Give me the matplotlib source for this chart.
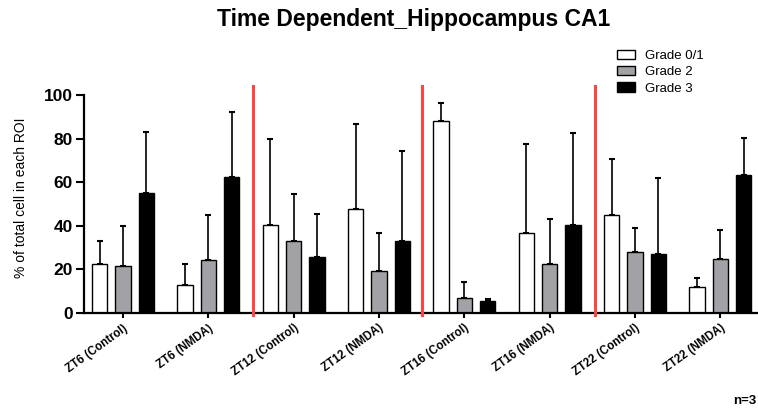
import matplotlib.pyplot as plt
import numpy as np

plt.rcParams['font.family'] = ['Liberation Sans', 'DejaVu Sans']

groups = ["ZT6 (Control)", "ZT6 (NMDA)", "ZT12 (Control)", "ZT12 (NMDA)",
          "ZT16 (Control)", "ZT16 (NMDA)", "ZT22 (Control)", "ZT22 (NMDA)"]
grade01 = [22.7, 12.9, 40.6, 47.6, 88.1, 36.8, 45.2, 11.8]
grade2 = [21.7, 24.2, 33.2, 19.4, 6.9, 22.7, 27.9, 25.0]
grade3 = [55.0, 62.6, 25.9, 33.1, 5.4, 40.3, 27.0, 63.2]
# upper error bar (SD)
err01 = [10.4, 9.5, 39.5, 39.2, 8.1, 41.0, 25.4, 4.3]
err2 = [18.3, 20.8, 21.3, 17.4, 7.2, 20.6, 11.3, 13.1]
err3 = [28.0, 29.7, 19.6, 41.3, 1.0, 42.1, 35.0, 17.2]
dividers = [1.52, 3.51, 5.53]

fig = plt.figure(figsize=(7.58, 4.08), dpi=100)
ax = fig.add_axes([0.1108, 0.2328, 0.889, 0.534])

x = np.arange(len(groups))
w = 0.18
off = 0.273
series = [(grade01, err01, "white", "Grade 0/1"),
          (grade2, err2, "#a2a2a6", "Grade 2"),
          (grade3, err3, "black", "Grade 3")]
for i, (vals, errs, col, lab) in enumerate(series):
    pos = x + (i - 1) * off
    ax.bar(pos, vals, w, color=col, edgecolor="black", linewidth=1.0, label=lab, zorder=2)
    ax.errorbar(pos, vals, yerr=[np.zeros(len(errs)), errs], fmt="none",
                ecolor="black", elinewidth=1.2, capsize=2.5, capthick=1.5, zorder=1)

for d in dividers:
    ax.plot([d, d], [-1, 104], color="#ff4444", linewidth=2.2, clip_on=False, zorder=3)

ax.set_xlim(-0.457, 7.44)
ax.set_ylim(0, 100)
ax.set_yticks([0, 20, 40, 60, 80, 100])
ax.set_xticks(x)
ax.set_xticklabels(groups, rotation=36, ha="right", rotation_mode="anchor",
                   fontsize=8.3, fontweight="bold")
for lbl in ax.get_yticklabels():
    lbl.set_fontweight("bold")
ax.tick_params(axis="y", labelsize=12.5, length=5.5, width=1.5, pad=2.5)
ax.tick_params(axis="x", length=3.5, width=1.5, pad=3)
ax.spines["top"].set_visible(False)
ax.spines["right"].set_visible(False)
ax.spines["left"].set_linewidth(1.6)
ax.spines["bottom"].set_linewidth(1.6)

ax.set_ylabel("% of total cell in each ROI", fontsize=10)
ax.yaxis.set_label_coords(-0.083, 0.53)

fig.legend(loc="upper left", bbox_to_anchor=(617 / 758, 1 - 50 / 408), frameon=False,
           fontsize=9.5, handlelength=1.4, handleheight=0.7, handletextpad=0.7,
           labelspacing=0.3, borderpad=0, borderaxespad=0)

fig.text(0.546, 0.953, "Time Dependent_Hippocampus CA1", ha="center", va="center",
         fontsize=16.5, fontweight="bold")
fig.text(0.998, 0.017, "n=3", ha="right", va="center", fontsize=9.5, fontweight="bold")

fig.savefig("out.png", dpi=100)
